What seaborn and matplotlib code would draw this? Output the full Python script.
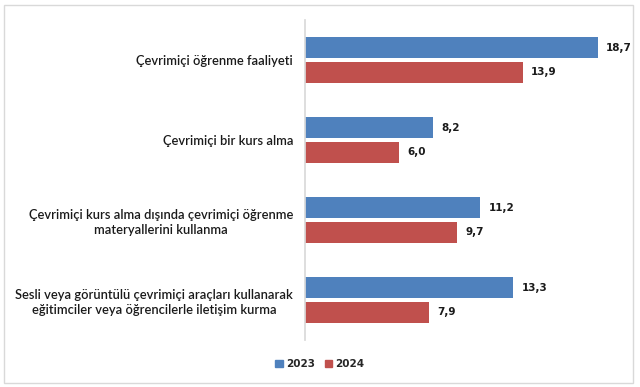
import pandas as pd
import matplotlib.pyplot as plt
import seaborn as sns
from matplotlib.patches import Rectangle

# Data
categories = [
    "Çevrimiçi öğrenme faaliyeti",
    "Çevrimiçi bir kurs alma",
    "Çevrimiçi kurs alma dışında çevrimiçi öğrenme\nmateryallerini kullanma",
    "Sesli veya görüntülü çevrimiçi araçları kullanarak\neğitimciler veya öğrencilerle iletişim kurma",
]
years = ["2023", "2024"]
values_2023 = [18.7, 8.2, 11.2, 13.3]
values_2024 = [13.9, 6.0, 9.7, 7.9]
colors = ["#4F81BD", "#C0504D"]

df = pd.DataFrame({
    "kategori": categories * 2,
    "yil": [years[0]] * 4 + [years[1]] * 4,
    "deger": values_2023 + values_2024,
})

sns.set_theme(style="white")
plt.rcParams["font.family"] = ["Lato", "DejaVu Sans"]

fig = plt.figure(figsize=(6.4, 3.87), dpi=100)
ax = fig.add_axes([305 / 640, 1 - 340 / 387, 313 / 640, 320 / 387])

sns.barplot(data=df, y="kategori", x="deger", hue="yil", orient="h",
            palette=colors, saturation=1, width=0.62, gap=0.17, linewidth=0,
            ax=ax, legend=False)

ax.set_xlim(0, 20)
ax.set_ylim(3.5, -0.5)
ax.set_xlabel("")
ax.set_ylabel("")
ax.set_xticks([])
for s in ["top", "right", "bottom"]:
    ax.spines[s].set_visible(False)
ax.spines["left"].set_color("#D9D9D9")
ax.tick_params(axis="y", length=0, pad=8.5)
for lbl in ax.get_yticklabels():
    lbl.set_fontsize(9.3)
    lbl.set_fontweight("semibold")
    lbl.set_multialignment("center")
    lbl.set_linespacing(1.35)
    lbl.set_color("#1a1a1a")

for cont in ax.containers:
    ax.bar_label(cont, labels=[f"{v:.1f}".replace(".", ",") for v in cont.datavalues],
                 padding=6, fontsize=7.5, fontweight="bold", color="#1a1a1a",
                 family=["DejaVu Sans"])

# Legend
handles = [Rectangle((0, 0), 1, 1, color=c) for c in colors]
fig.legend(handles, years, loc="center", bbox_to_anchor=(320 / 640, 1 - 364 / 387),
           ncol=2, frameon=False, handlelength=0.7, handleheight=0.7,
           handletextpad=0.3, columnspacing=1.0,
           prop={"size": 7.5, "weight": "bold", "family": "DejaVu Sans"})

# Outer border
fig.patches.append(Rectangle((4 / 640, 4 / 387), 629 / 640, 378 / 387,
                             transform=fig.transFigure, fill=False,
                             edgecolor="#D9D9D9", linewidth=1))

fig.savefig("out.png", dpi=100)
